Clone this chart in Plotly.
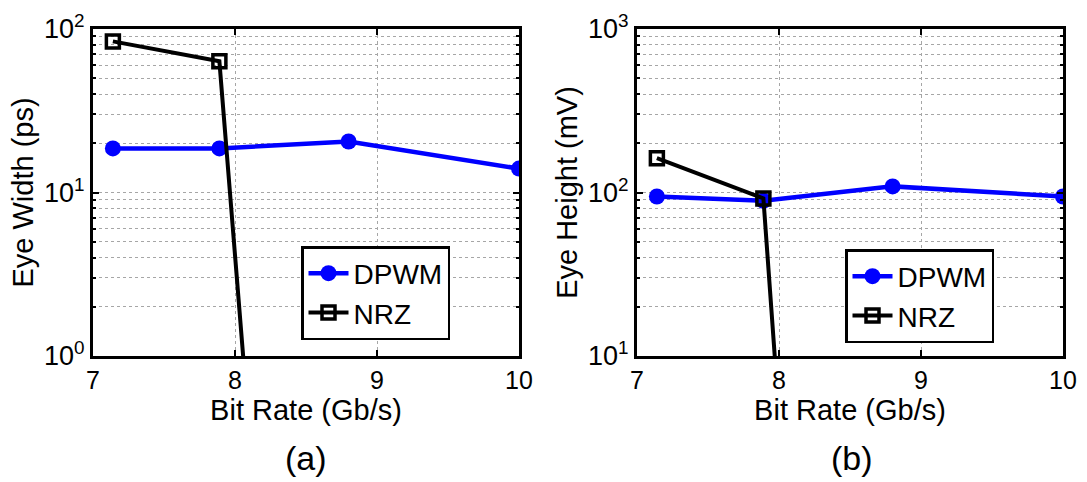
import plotly.graph_objects as go

# Bit rates (Gb/s)
bit_rate = [7.14, 7.89, 8.8, 10.0]

# (a) eye width, ps
dpwm_width = [18.6, 18.6, 20.5, 14.0]
nrz_width = [84.0, 63.5, 1e-8, 1e-8]

# (b) eye height, mV
dpwm_height = [94.5, 89.0, 109.0, 94.5]
nrz_height = [162.0, 92.0, 1e-9, 1e-9]

x_ticks = [7, 8, 9, 10]

FONT = "Liberation Sans, Arial, sans-serif"
BLUE = "#0000ff"
GRID = "#a6a6a6"

fig = go.Figure()

def add_pair(dpwm, nrz, xa, ya, legend):
    fig.add_trace(go.Scatter(
        x=bit_rate, y=dpwm, name="DPWM", mode="lines+markers",
        line=dict(color=BLUE, width=4.5),
        marker=dict(symbol="circle", size=16, color=BLUE),
        xaxis=xa, yaxis=ya, legend=legend, cliponaxis=True))
    fig.add_trace(go.Scatter(
        x=bit_rate, y=nrz, name="NRZ", mode="lines+markers",
        line=dict(color="black", width=4),
        marker=dict(symbol="square-open", size=13, color="black",
                    line=dict(width=3.5, color="black")),
        xaxis=xa, yaxis=ya, legend=legend, cliponaxis=True))

add_pair(dpwm_width, nrz_width, "x", "y", "legend")
add_pair(dpwm_height, nrz_height, "x2", "y2", "legend2")

def minor_vals(lo, hi):
    vals = []
    d = 10 ** lo
    while d < 10 ** hi:
        vals += [m * d for m in range(2, 10)]
        d *= 10
    return vals

def sup_labels(lo, hi):
    return [10 ** e for e in range(lo, hi + 1)], \
           ["10<sup>%d</sup>" % e for e in range(lo, hi + 1)]

common_x = dict(
    range=[7, 10], tickvals=x_ticks, ticktext=[str(v) for v in x_ticks],
    showline=True, linecolor="black", linewidth=3, mirror="ticks",
    ticks="inside", ticklen=6, tickwidth=2, tickcolor="black",
    showgrid=True, gridcolor=GRID, griddash="dot", gridwidth=1,
    zeroline=False, automargin=False,
    tickfont=dict(size=25, color="black", family=FONT),
    title=dict(text="Bit Rate (Gb/s)", font=dict(size=29, color="black", family=FONT),
               standoff=0),
)

def y_axis(lo, hi, title, domain_x_anchor):
    tv, tt = sup_labels(lo, hi)
    return dict(
        type="log", range=[lo, hi], tickvals=tv, ticktext=tt,
        showline=True, linecolor="black", linewidth=3, mirror="ticks",
        ticks="inside", ticklen=6, tickwidth=2, tickcolor="black",
        showgrid=True, gridcolor=GRID, griddash="dot", gridwidth=1,
        minor=dict(tickvals=minor_vals(lo, hi), ticks="inside", ticklen=3,
                   tickcolor="black", showgrid=True, gridcolor=GRID,
                   griddash="dot", gridwidth=1),
        zeroline=False, anchor=domain_x_anchor, automargin=False,
        tickfont=dict(size=27, color="black", family=FONT),
        title=dict(text=title, font=dict(size=29, color="black", family=FONT),
                   standoff=2),
    )

legend_style = dict(xanchor="left", yanchor="top",
                    bordercolor="black", borderwidth=2.5, bgcolor="white",
                    font=dict(size=28, color="black", family=FONT),
                    tracegroupgap=0, itemwidth=40)

fig.update_layout(
    width=1087, height=482,
    margin=dict(l=0, r=0, t=0, b=0),
    paper_bgcolor="white", plot_bgcolor="white",
    font=dict(family=FONT, color="black"),
    xaxis=dict(domain=[93 / 1087, 519 / 1087], anchor="y", **common_x),
    xaxis2=dict(domain=[637 / 1087, 1063 / 1087], anchor="y2", **common_x),
    yaxis=dict(domain=[1 - 356 / 482, 1 - 29 / 482], **y_axis(0, 2, "Eye Width (ps)", "x")),
    yaxis2=dict(domain=[1 - 356 / 482, 1 - 29 / 482], **y_axis(1, 3, "Eye Height (mV)", "x2")),
    legend=dict(x=301 / 1087, y=1 - 246 / 482, **legend_style),
    legend2=dict(x=845 / 1087, y=1 - 249 / 482, **legend_style),
    showlegend=True,
    annotations=[
        dict(text="(a)", x=306 / 1087, y=1 - 458 / 482, xref="paper", yref="paper",
             xanchor="center", yanchor="middle",
             showarrow=False, font=dict(size=34, color="black", family=FONT)),
        dict(text="(b)", x=852 / 1087, y=1 - 458 / 482, xref="paper", yref="paper",
             xanchor="center", yanchor="middle",
             showarrow=False, font=dict(size=34, color="black", family=FONT)),
    ],
)

fig.write_html("out.html")
